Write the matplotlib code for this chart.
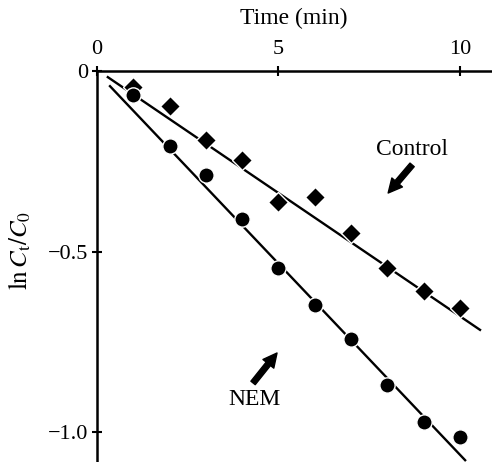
import matplotlib
matplotlib.use("Agg")
import matplotlib.pyplot as plt

plt.rcParams['font.family'] = ['Liberation Serif', 'DejaVu Serif']
plt.rcParams['mathtext.fontset'] = 'stix'

# data
time_min = [1, 2, 3, 4, 5, 6, 7, 8, 9, 10]
control = [-0.044, -0.097, -0.19, -0.247, -0.363, -0.349, -0.449, -0.546, -0.609, -0.657]
nem = [-0.066, -0.208, -0.288, -0.41, -0.546, -0.648, -0.742, -0.87, -0.972, -1.014]

# fitted lines (end points)
control_fit_t = [0.30, 10.55]
control_fit_y = [-0.017, -0.717]
nem_fit_t = [0.36, 10.14]
nem_fit_y = [-0.042, -1.078]

xticks = [0, 5, 10]
yticks = [0, -0.5, -1.0]
ytick_labels = ['0', '\u22120.5', '\u22121.0']

fig = plt.figure(figsize=(4.92, 4.62), dpi=100)
ax = fig.add_axes([0.197, 0.0, 0.803, 0.8463])

ax.plot(control_fit_t, control_fit_y, color='black', lw=1.7, zorder=2)
ax.plot(nem_fit_t, nem_fit_y, color='black', lw=1.7, zorder=2)
ax.plot(time_min, control, 'D', color='black', ms=10.5, mec='white', mew=1.0, zorder=3)
ax.plot(time_min, nem, 'o', color='black', ms=11, mec='white', mew=1.0, zorder=3)

arrow = dict(arrowstyle='simple,head_length=1.0,head_width=1.0,tail_width=0.4',
             color='black', shrinkA=0, shrinkB=0)
ax.annotate('', xy=(8.02, -0.338), xytext=(8.68, -0.260), arrowprops=arrow)
ax.text(8.68, -0.217, 'Control', ha='center', va='center', fontsize=17)
ax.annotate('', xy=(4.96, -0.781), xytext=(4.30, -0.864), arrowprops=arrow)
ax.text(4.34, -0.91, 'NEM', ha='center', va='center', fontsize=17)

ax.set_xlim(0, 10.88)
ax.set_ylim(-1.083, 0)

for side in ['right', 'bottom']:
    ax.spines[side].set_visible(False)
for side in ['top', 'left']:
    ax.spines[side].set_linewidth(1.8)

ax.xaxis.tick_top()
ax.xaxis.set_label_position('top')
ax.set_xticks(xticks)
ax.set_xticklabels([str(t) for t in xticks])
ax.set_yticks(yticks)
ax.set_yticklabels(ytick_labels)
ax.tick_params(direction='inout', length=7, width=1.5, labelsize=16)
ax.tick_params(axis='x', pad=5)
ax.tick_params(axis='y', pad=3)

ax.set_xlabel('Time (min)', fontsize=17)
ax.xaxis.set_label_coords(0.497, 1.1355)
ax.xaxis.label.set_va('center')
ax.set_ylabel(r'$\ln C_{\rm t}/C_0$', fontsize=18)
ax.yaxis.set_label_coords(-0.195, 0.542)
ax.yaxis.label.set_va('center')

fig.savefig('out.png', dpi=100)
